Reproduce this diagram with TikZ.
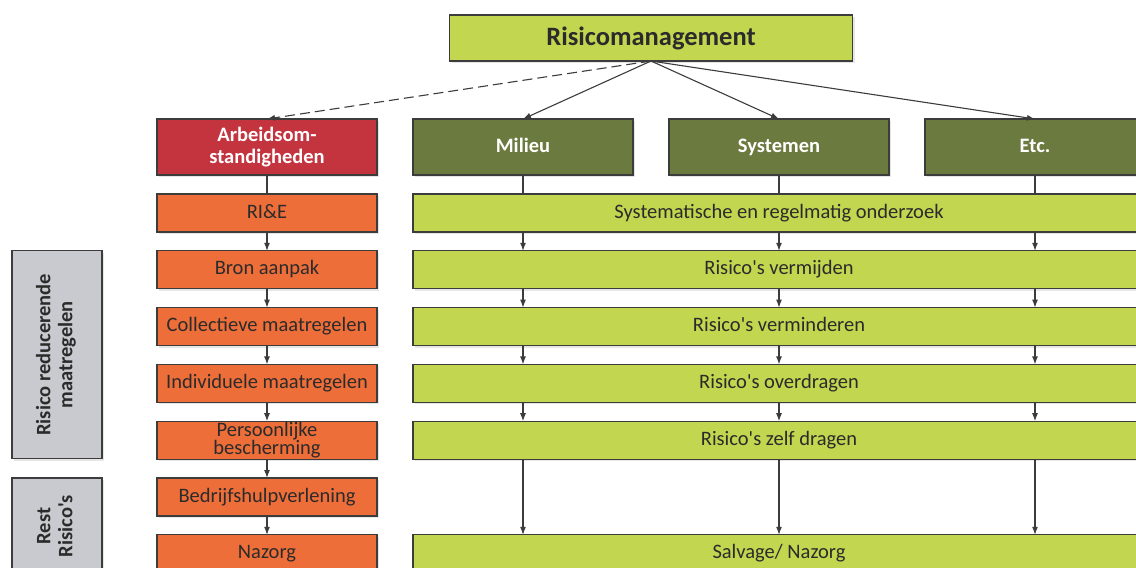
\documentclass[tikz,border=0pt]{standalone}
\usepackage{fontspec}
\setmainfont{Carlito}
\usepackage{xcolor}
\usetikzlibrary{calc}
\usetikzlibrary{positioning}
\usetikzlibrary{shadows}
\usetikzlibrary{arrows.meta}

\definecolor{lime}{HTML}{C2D64F}
\definecolor{olive}{HTML}{6B7A3F}
\definecolor{brick}{HTML}{C4343F}
\definecolor{carrot}{HTML}{EE6E39}
\definecolor{greyfill}{HTML}{C9CACF}
\definecolor{edge}{HTML}{3C3C3C}
\definecolor{ink}{HTML}{2B2B2B}

\begin{document}
\begin{tikzpicture}[x=1pt,y=-1pt]
		\tikzstyle{box} = [draw=edge, line width=1.1pt, inner sep=0pt, outer sep=0pt, align=center, text=ink,
			drop shadow={opacity=0.2, shadow xshift=2pt, shadow yshift=-2pt}]
		\tikzstyle{oneline} = [text height=14pt, text depth=4pt]
		\tikzstyle{twolines} = [text height=, text depth=]
		\tikzstyle{topbox} = [box, fill=lime, minimum width=403pt, minimum height=46pt,
			font=\fontsize{26.5}{30}\selectfont\bfseries]
		\tikzstyle{headbox} = [box, oneline, fill=olive, text=white, minimum width=220pt, minimum height=56pt,
			font=\fontsize{20.5}{22}\selectfont\bfseries]
		\tikzstyle{stepbox} = [box, oneline, fill=carrot, minimum width=220pt, minimum height=38pt,
			font=\fontsize{20.5}{17}\selectfont]
		\tikzstyle{widebox} = [box, oneline, fill=lime, minimum width=732pt, minimum height=38pt,
			font=\fontsize{20.5}{17}\selectfont]
		\tikzstyle{greybox} = [box, fill=greyfill, minimum width=90pt,
			font=\fontsize{20.5}{22}\selectfont\bfseries]
		\tikzstyle{link} = [draw=edge, line width=1.1pt, -{Latex[length=8pt,width=6pt]}]
		\tikzstyle{plain} = [draw=edge, line width=1.1pt]

		\useasboundingbox (0,0) rectangle (1136,568);

		\node[topbox] (Risico) at (651,38) {Risicomanagement};

		\node[headbox, twolines, fill=brick] (Arbeid) at (267,147) {Arbeidsom-\\standigheden};
		\node[headbox, right=36pt of Arbeid] (Milieu) {Milieu};
		\node[headbox, right=36pt of Milieu] (Systemen) {Systemen};
		\node[headbox, right=36pt of Systemen] (Etc) {Etc.};

		\node[stepbox, below=19pt of Arbeid] (RIE) {RI\&E};
		\node[stepbox, below=18.8pt of RIE] (Bron) {Bron aanpak};
		\node[stepbox, below=18.8pt of Bron] (Collectief) {Collectieve maatregelen};
		\node[stepbox, below=18.8pt of Collectief] (Individueel) {Individuele maatregelen};
		\node[stepbox, twolines, below=18.8pt of Individueel] (Persoonlijk) {Persoonlijke\\bescherming};
		\node[stepbox, below=18.8pt of Persoonlijk] (Bedrijf) {Bedrijfshulpverlening};
		\node[stepbox, below=18.8pt of Bedrijf] (Nazorg) {Nazorg};

		\node[widebox, right=36pt of RIE] (Onderzoek) {Systematische en regelmatig onderzoek};
		\node[widebox, right=36pt of Bron] (Vermijden) {Risico\textquotesingle s vermijden};
		\node[widebox, right=36pt of Collectief] (Verminderen) {Risico\textquotesingle s verminderen};
		\node[widebox, right=36pt of Individueel] (Overdragen) {Risico\textquotesingle s overdragen};
		\node[widebox, right=36pt of Persoonlijk] (Zelf) {Risico\textquotesingle s zelf dragen};
		\node[widebox, right=36pt of Nazorg] (Salvage) {Salvage/ Nazorg};

		\node[greybox, minimum height=208pt, left=55pt of Bron.north west, anchor=north east] (Reducerend)
			{\rotatebox{90}{\begin{tabular}{@{}c@{}}Risico reducerende\\maatregelen\end{tabular}}};
		\node[greybox, minimum height=96pt, left=55pt of Bedrijf.north west, anchor=north east] (Rest)
			{\rotatebox{90}{\begin{tabular}{@{}c@{}}Rest\\Risico\textquotesingle s\end{tabular}}};

		% from the top
		\draw[link, dash pattern=on 10pt off 5pt] (Risico.south) -- (Arbeid.north);
		\foreach \h in {Milieu,Systemen,Etc}
			\draw[link] (Risico.south) -- (\h.north);

		% left column
		\draw[plain] (Arbeid) -- (RIE);
		\foreach \a/\b in {RIE/Bron,Bron/Collectief,Collectief/Individueel,Individueel/Persoonlijk,Persoonlijk/Bedrijf,Bedrijf/Nazorg}
			\draw[link] (\a) -- (\b);

		% right columns
		\foreach \h in {Milieu,Systemen,Etc}{
			\draw[plain] (\h) -- (\h |- Onderzoek.north);
			\foreach \a/\b in {Onderzoek/Vermijden,Vermijden/Verminderen,Verminderen/Overdragen,Overdragen/Zelf,Zelf/Salvage}
				\draw[link] (\h |- \a.south) -- (\h |- \b.north);
		}

	\end{tikzpicture}
\end{document}
